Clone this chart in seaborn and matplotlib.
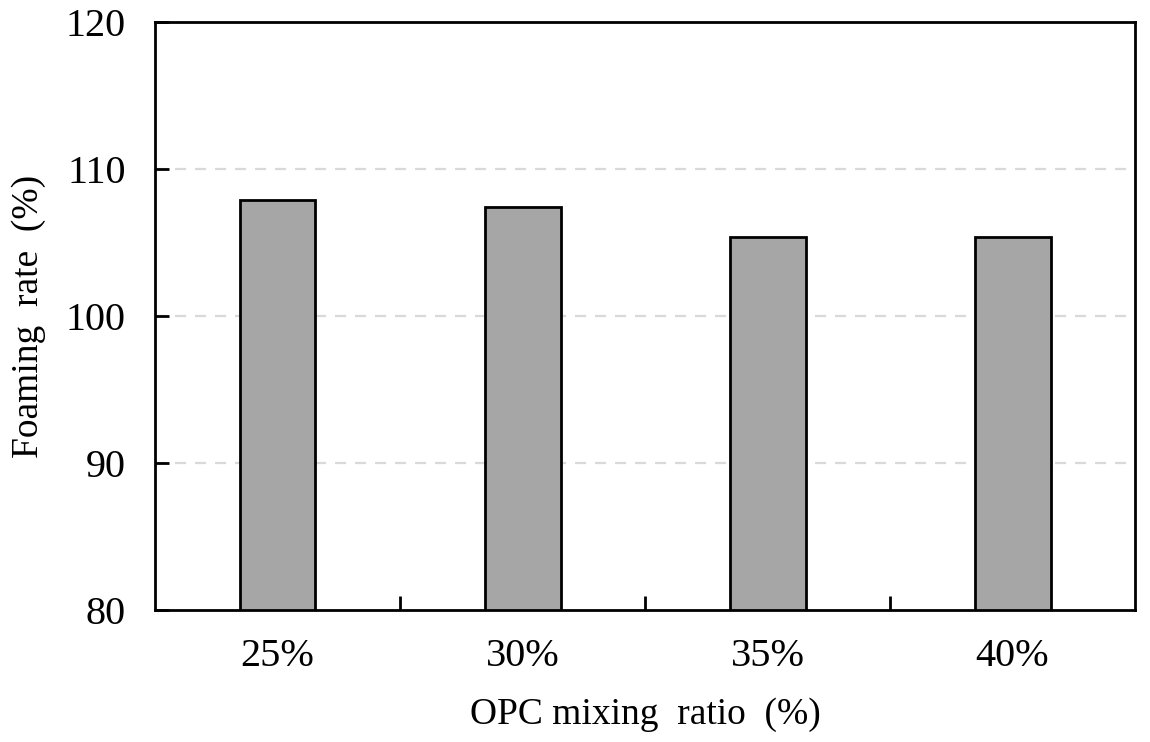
import numpy as np
import pandas as pd
import matplotlib.pyplot as plt
import seaborn as sns
from matplotlib.ticker import FixedLocator

# Datos
ratios = ["25%", "30%", "35%", "40%"]
foaming_rate = [107.9, 107.4, 105.4, 105.4]

df = pd.DataFrame({"ratio": ratios, "rate": foaming_rate})

sns.set_theme(style="white")
plt.rcParams['font.family'] = ['Liberation Serif', 'DejaVu Serif']
plt.rcParams['text.color'] = 'black'
plt.rcParams['axes.labelcolor'] = 'black'
plt.rcParams['xtick.color'] = 'black'
plt.rcParams['ytick.color'] = 'black'

fig = plt.figure(figsize=(11.5, 7.42), dpi=100)
ax = fig.add_axes([0.1348, 0.178, 0.8522, 0.792])

sns.barplot(x="ratio", y="rate", data=df, ax=ax, color="#a6a6a6",
            width=0.31, edgecolor="black", linewidth=2, saturation=1)

ax.set_ylim(80, 120)
ax.set_xlim(-0.5, 3.5)
ax.set_yticks([80, 90, 100, 110, 120])

# grid discontinua solo en 90, 100, 110
for y in [90, 100, 110]:
    ax.axhline(y, color="#d9d9d9", linestyle=(0, (5, 4)), linewidth=1.6, zorder=0)

for s in ax.spines.values():
    s.set_color("black")
    s.set_linewidth(2)

ax.tick_params(axis="y", direction="in", length=10, width=2, labelsize=29, pad=21, left=True)
ax.tick_params(axis="x", which="major", length=0, labelsize=29, pad=20)
ax.xaxis.set_minor_locator(FixedLocator([0.5, 1.5, 2.5]))
ax.tick_params(axis="x", which="minor", direction="in", length=10, width=2, bottom=True)

ax.set_xlabel("OPC mixing  ratio  (%)", fontsize=27, labelpad=16)
ax.set_ylabel("Foaming  rate  (%)", fontsize=27, labelpad=14)

plt.savefig("out.png", dpi=100)
plt.close()
